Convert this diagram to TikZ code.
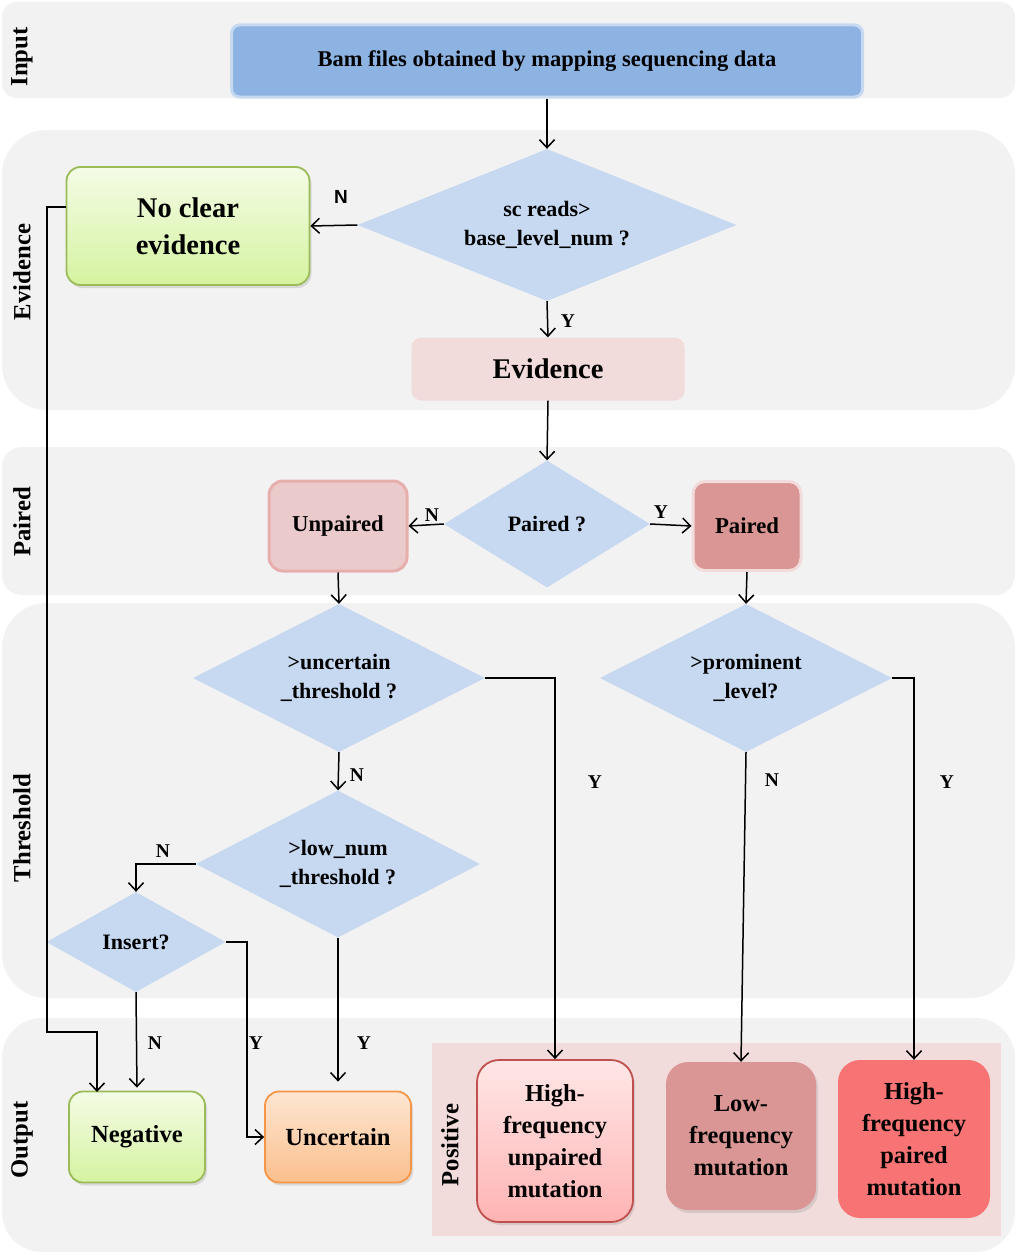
\documentclass[tikz,border=0pt]{standalone}
\usepackage{fontspec}
\setmainfont{Liberation Serif}
\newfontfamily\lsans{Liberation Sans}
\usetikzlibrary{shapes.geometric,arrows.meta,shadows}
\definecolor{laneg}{HTML}{F2F2F2}
\definecolor{bamfill}{HTML}{8DB3E2}
\definecolor{diab}{HTML}{C6D9F1}
\definecolor{grtop}{HTML}{F4FCE6}
\definecolor{grbot}{HTML}{D5F3A0}
\definecolor{grdraw}{HTML}{9BBB59}
\definecolor{pinklt}{HTML}{F2DCDB}
\definecolor{unpfill}{HTML}{EACACA}
\definecolor{unpdraw}{HTML}{E6AFAE}
\definecolor{rose}{HTML}{D99694}
\definecolor{ortop}{HTML}{FDE6D3}
\definecolor{orbot}{HTML}{FBBF8C}
\definecolor{ordraw}{HTML}{F79646}
\definecolor{hutop}{HTML}{FFE7E7}
\definecolor{hubot}{HTML}{FFB3B3}
\definecolor{hudraw}{HTML}{C0504D}
\definecolor{hpfill}{HTML}{F87474}
\begin{document}
\begin{tikzpicture}[x=1pt,y=-1pt,
 lanelabel/.style={rotate=90, inner sep=0pt, font=\fontsize{24.7}{28}\selectfont\bfseries},
 dia/.style={diamond, fill=diab, draw=none, inner sep=0pt, align=center, font=\fontsize{22}{29}\selectfont\bfseries},
 box/.style={rounded corners=14pt, align=center, inner sep=0pt},
 shad/.style={drop shadow={opacity=0.22, shadow xshift=2pt, shadow yshift=-3pt}},
 arr/.style={line width=1.5pt, -{Straight Barb[length=8pt,width=15pt,line width=1.5pt]}},
 yn/.style={font=\fontsize{19.5}{22}\selectfont\bfseries, inner sep=0pt},
]
\useasboundingbox (0,0) rectangle (1017,1255);
\fill[white] (0,0) rectangle (1017,1255);
% lanes
\fill[laneg, rounded corners=15pt] (2,2) rectangle (1015,98);
\fill[laneg, rounded corners=45pt] (2,130) rectangle (1015,410);
\fill[laneg, rounded corners=20pt] (2,447) rectangle (1015,595);
\fill[laneg, rounded corners=45pt] (2,603) rectangle (1015,998);
\fill[laneg, rounded corners=40pt] (2,1018) rectangle (1015,1252);
\fill[pinklt] (432,1043) rectangle (1001,1236);
% lane labels
\node[lanelabel] (lInput) at (22,57) {Input};
\node[lanelabel] (lEvid) at (22,272) {Evidence};
\node[lanelabel] (lPair) at (22,522) {Paired};
\node[lanelabel] (lThr) at (22,828) {Threshold};
\node[lanelabel] (lOut) at (22,1140) {Output};
\node[lanelabel] (lPos) at (450,1145) {Positive};
% nodes
\node[rounded corners=8pt, fill=bamfill, draw=diab, line width=3pt, minimum width=631pt, minimum height=72pt, inner sep=0pt, font=\fontsize{22.5}{26}\selectfont\bfseries] (bam) at (547,61) {Bam files obtained by mapping sequencing data};
\node[dia, aspect=2.49, minimum width=379pt, minimum height=152pt] (d1) at (547,225) {sc reads>\\base\_level\_num ?};
\node[box, shad, top color=grtop, bottom color=grbot, draw=grdraw, line width=1.8pt, minimum width=243pt, minimum height=118pt, font=\fontsize{28.5}{37}\selectfont\bfseries] (nce) at (188,226) {No clear\\evidence};
\node[box, rounded corners=10pt, fill=pinklt, minimum width=273pt, minimum height=63pt, font=\fontsize{28.5}{32}\selectfont\bfseries] (ev) at (548,369) {Evidence};
\node[dia, aspect=1.62, minimum width=206pt, minimum height=127pt] (dp) at (547,524) {Paired ?};
\node[box, fill=unpfill, draw=unpdraw, line width=3pt, minimum width=138pt, minimum height=90pt, font=\fontsize{22.7}{26}\selectfont\bfseries] (unp) at (338,526) {Unpaired};
\node[box, rounded corners=12pt, fill=rose, draw=pinklt, line width=3pt, minimum width=108pt, minimum height=89pt, font=\fontsize{22.7}{26}\selectfont\bfseries] (pai) at (747,526) {Paired};
\node[dia, aspect=1.97, minimum width=292pt, minimum height=148pt] (du) at (339,678) {>uncertain\\\_threshold ?};
\node[dia, aspect=1.97, minimum width=292pt, minimum height=148pt] (dpr) at (746,678) {>prominent\\\_level?};
\node[dia, aspect=1.93, minimum width=284pt, minimum height=147pt] (dl) at (338,864) {>low\_num\\\_threshold ?};
\node[dia, aspect=1.79, minimum width=179pt, minimum height=100pt] (di) at (136,942) {Insert?};
\node[box, shad, top color=grtop, bottom color=grbot, draw=grdraw, line width=1.8pt, minimum width=136pt, minimum height=91pt, font=\fontsize{24.6}{28}\selectfont\bfseries] (neg) at (137,1137) {Negative};
\node[box, shad, top color=ortop, bottom color=orbot, draw=ordraw, line width=1.8pt, minimum width=146pt, minimum height=91pt, font=\fontsize{24.6}{28}\selectfont\bfseries] (unc) at (338,1137) {Uncertain};
\node[box, rounded corners=22pt, shad, top color=hutop, bottom color=hubot, draw=hudraw, line width=1.8pt, minimum width=156pt, minimum height=162pt, font=\fontsize{24.4}{32}\selectfont\bfseries] (hfu) at (555,1141) {High-\\frequency\\unpaired\\mutation};
\node[box, rounded corners=22pt, shad, fill=rose, minimum width=150pt, minimum height=148pt, font=\fontsize{24.4}{32}\selectfont\bfseries] (lf) at (741,1136) {Low-\\frequency\\mutation};
\node[box, rounded corners=22pt, fill=hpfill, minimum width=152pt, minimum height=158pt, font=\fontsize{24.4}{32}\selectfont\bfseries] (hfp) at (914,1139) {High-\\frequency\\paired\\mutation};
% bend coordinates
\coordinate (nceout) at (66,207);
\coordinate (b1) at (47,207);
\coordinate (b2) at (47,1032);
\coordinate (b3) at (97,1032);
\coordinate (negL) at (97,1092);
\coordinate (b4) at (247,942);
% connectors
\draw[arr] (bam.south) -- (d1.north);
\draw[arr] (d1.west) -- (nce.east);
\draw[arr] (d1.south) -- (ev.north);
\draw[arr] (ev.south) -- (dp.north);
\draw[arr] (dp.west) -- (unp.east);
\draw[arr] (dp.east) -- (pai.west);
\draw[arr] (unp.south) -- (du.north);
\draw[arr] (pai.south) -- (dpr.north);
\draw[arr] (du.south) -- (dl.north);
\draw[arr] (du.east) -| (hfu.north);
\draw[arr] (dpr.south) -- (lf.north);
\draw[arr] (dpr.east) -| (hfp.north);
\draw[arr] (dl.west) -| (di.north);
\draw[arr, shorten >=9pt] (dl.south) -- (unc.north);
\draw[arr, shorten >=3pt] (di.south) -- (neg.north);
\draw[arr] (di.east) -- (b4) |- (unc.west);
\draw[arr] (nceout) -- (b1) -- (b2) -- (b3) -- (negL);
% Y/N labels
\node[yn, font=\lsans\fontsize{19}{22}\selectfont\bfseries] (t1) at (341,197) {N};
\node[yn] (t2) at (568,321) {Y};
\node[yn] (t3) at (432,515) {N};
\node[yn] (t4) at (661,512) {Y};
\node[yn] (t5) at (357,775) {N};
\node[yn] (t6) at (595,782) {Y};
\node[yn] (t7) at (772,780) {N};
\node[yn] (t8) at (947,782) {Y};
\node[yn] (t9) at (163,851) {N};
\node[yn] (t10) at (155,1043) {N};
\node[yn] (t11) at (256,1043) {Y};
\node[yn] (t12) at (364,1043) {Y};
\end{tikzpicture}
\end{document}
